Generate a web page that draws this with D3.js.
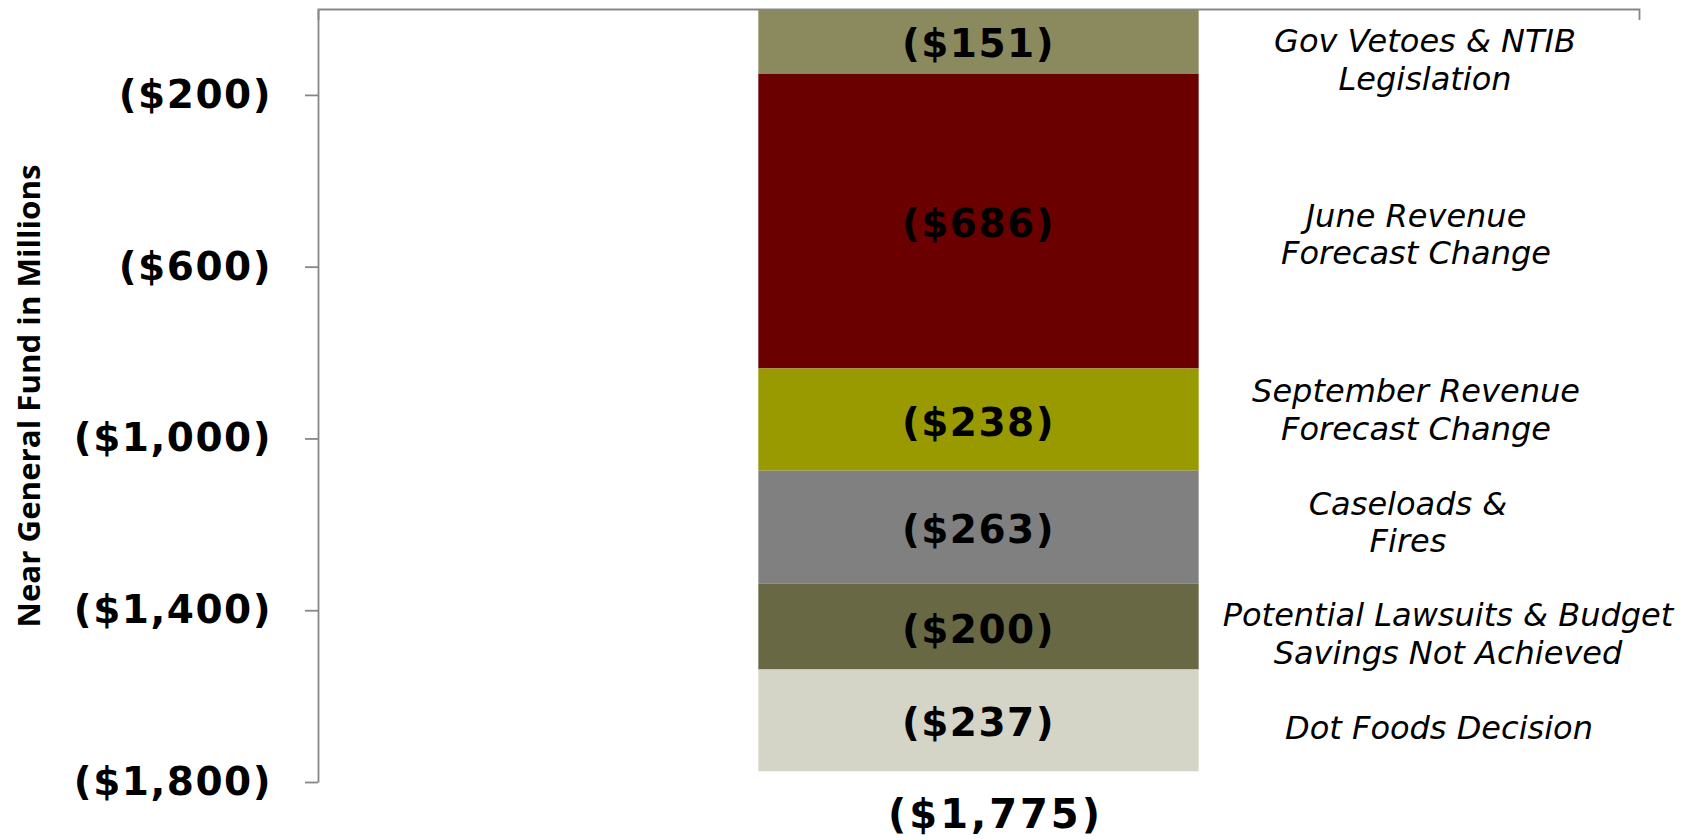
<!DOCTYPE html>
<html>
<head>
<meta charset="utf-8">
<script src="https://cdn.jsdelivr.net/npm/d3@7"></script>
<style>
  body { margin: 0; background: #fff; }
  svg { display: block; }
</style>
</head>
<body>
<div id="chart"></div>
<script>
// Data
var categories = ["Gov Vetoes & NTIB Legislation", "June Revenue Forecast Change",
  "September Revenue Forecast Change", "Caseloads & Fires",
  "Potential Lawsuits & Budget Savings Not Achieved", "Dot Foods Decision"];
var noteLines = [
  ["Gov Vetoes & NTIB", "Legislation"],
  ["June Revenue", "Forecast Change"],
  ["September Revenue", "Forecast Change"],
  ["Caseloads &", "Fires"],
  ["Potential Lawsuits & Budget", "Savings Not Achieved"],
  ["Dot Foods Decision"]
];
var values = [-151, -686, -238, -263, -200, -237];
var yTicks = [-200, -600, -1000, -1400, -1800];
var yDomain = [0, -1800];

var colors = ["#8b8a5e", "#6b0000", "#999900", "#808080", "#686845", "#d4d4c7"];

// hand placed text boxes to the right of the bar (x centre, shift from segment centre)
var noteX = [1425, 1416, 1416, 1408, 1448, 1439];
var noteShift = [18, 13, -10, -5, 7, 7];

var svgWidth = 1690;
var svgHeight = 840;

var margin = {top: 9, right: 51, bottom: 58, left: 318};
var width = svgWidth - margin.left - margin.right;
var height = svgHeight - margin.top - margin.bottom;

var svg = d3.select("#chart")
  .append("svg")
  .attr("width", svgWidth)
  .attr("height", svgHeight);

var chartGroup = svg.append("g")
  .attr("transform", `translate(${margin.left}, ${margin.top})`);

// scales
var xBandScale = d3.scaleBand()
  .domain(["total"])
  .range([0, width])
  .padding(0.5);

var yLinearScale = d3.scaleLinear()
  .domain(yDomain)
  .range([0, height]);

// stack the segments downward from zero
var row = {key: "total"};
categories.forEach(function(c, i) { row[c] = values[i]; });

var series = d3.stack()
  .keys(categories)
  .offset(d3.stackOffsetDiverging)([row]);

var fmt = function(v) { return "($" + d3.format(",")(Math.abs(v)) + ")"; };

// bars
chartGroup.selectAll("rect.seg")
  .data(series)
  .enter()
  .append("rect")
  .attr("class", "seg")
  .attr("x", xBandScale("total"))
  .attr("width", xBandScale.bandwidth())
  .attr("y", d => yLinearScale(d[0][1]))
  .attr("height", d => yLinearScale(d[0][0]) - yLinearScale(d[0][1]))
  .attr("fill", (d, i) => colors[i]);

// value labels inside the bar
chartGroup.selectAll("text.val")
  .data(series)
  .enter()
  .append("text")
  .attr("class", "val")
  .attr("x", xBandScale("total") + xBandScale.bandwidth() / 2)
  .attr("y", d => (yLinearScale(d[0][0]) + yLinearScale(d[0][1])) / 2 + 2)
  .attr("dy", "0.36em")
  .attr("text-anchor", "middle")
  .attr("font-family", "DejaVu Sans, Verdana, sans-serif")
  .attr("font-weight", "bold")
  .attr("font-size", "39px")
  .attr("letter-spacing", "1.5px")
  .attr("fill", "#000")
  .text((d, i) => fmt(values[i]));

// notes on the right
series.forEach(function(d, i) {
  var mid = (yLinearScale(d[0][0]) + yLinearScale(d[0][1])) / 2 + noteShift[i];
  var lines = noteLines[i];
  var lineH = 37.5;
  var note = chartGroup.append("text")
    .attr("text-anchor", "middle")
    .attr("font-family", "DejaVu Sans, Verdana, sans-serif")
    .attr("font-style", "italic")
    .attr("font-size", "32px")
    .attr("fill", "#000");
  lines.forEach(function(line, j) {
    note.append("tspan")
      .attr("x", noteX[i] - margin.left)
      .attr("y", mid + (j - (lines.length - 1) / 2) * lineH)
      .attr("dy", "0.36em")
      .text(line);
  });
});

// total under the bar
chartGroup.append("text")
  .attr("x", xBandScale("total") + xBandScale.bandwidth() / 2 + 17)
  .attr("y", yLinearScale(d3.sum(values)) + 57)
  .attr("text-anchor", "middle")
  .attr("font-family", "DejaVu Sans, Verdana, sans-serif")
  .attr("font-weight", "bold")
  .attr("font-size", "40px")
  .attr("letter-spacing", "3px")
  .attr("fill", "#000")
  .text(fmt(d3.sum(values)));

// axes
var topAxis = d3.axisBottom(xBandScale)
  .tickSizeInner(0)
  .tickSizeOuter(11)
  .tickFormat("");

var leftAxis = d3.axisLeft(yLinearScale)
  .tickValues(yTicks)
  .tickSize(13)
  .tickSizeOuter(0)
  .tickPadding(33)
  .tickFormat(fmt);

var xAxis = chartGroup.append("g")
  .classed("x-axis", true)
  .call(topAxis);

var yAxis = chartGroup.append("g")
  .classed("y-axis", true)
  .call(leftAxis);

svg.selectAll(".domain, .tick line")
  .attr("stroke", "#878787")
  .attr("stroke-width", 1.8);

yAxis.selectAll("text")
  .attr("font-family", "DejaVu Sans, Verdana, sans-serif")
  .attr("font-weight", "bold")
  .attr("font-size", "39px")
  .attr("letter-spacing", "1.5px")
  .attr("fill", "#000");

// y axis title
svg.append("text")
  .attr("transform", `translate(28, 396) rotate(-90)`)
  .attr("text-anchor", "middle")
  .attr("dominant-baseline", "central")
  .attr("font-family", "Open Sans, Lato, sans-serif")
  .attr("font-weight", "bold")
  .attr("font-size", "31px")
  .attr("textLength", 463)
  .attr("lengthAdjust", "spacingAndGlyphs")
  .attr("fill", "#000")
  .text("Near General Fund in Millions");
</script>
</body>
</html>
